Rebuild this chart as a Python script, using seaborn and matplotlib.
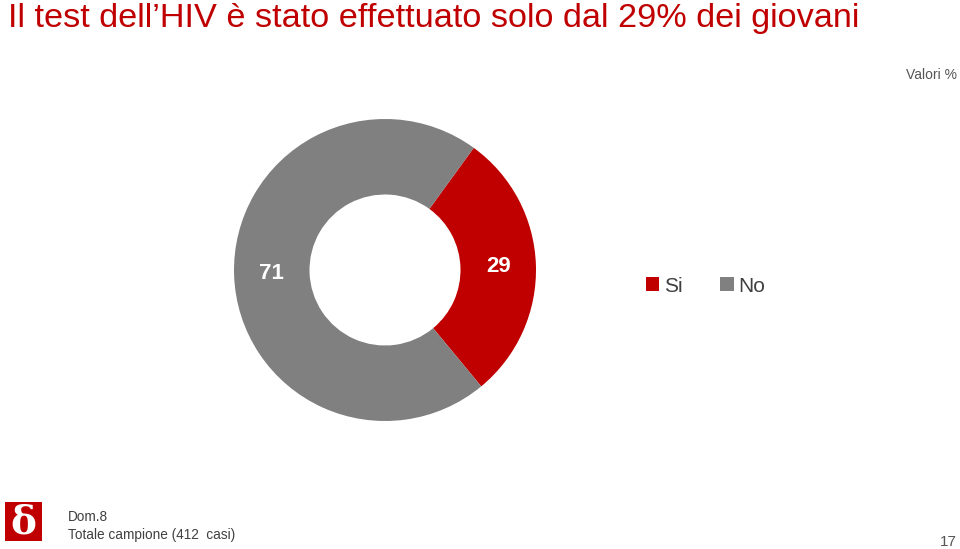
import matplotlib
matplotlib.use("Agg")
import matplotlib.pyplot as plt
import seaborn as sns
from matplotlib.patches import Patch, Rectangle

sns.set_theme(style="white")
plt.rcParams['font.family'] = ['Liberation Sans', 'DejaVu Sans']

categories = ["Si", "No"]
values = [29, 71]
colors = ["#C00000", "#808080"]
title = "Il test dell\u2019HIV è stato effettuato solo dal 29% dei giovani"

fig = plt.figure(figsize=(9.6, 5.49), dpi=100)
fig.patch.set_facecolor("white")

W, H = 960, 549
cx, cy, r = 385, 270, 151
ax = fig.add_axes([(cx - r) / W, (H - cy - r) / H, 2 * r / W, 2 * r / H])
wedges, texts, autotexts = ax.pie(
    values, colors=colors, startangle=54, counterclock=False, radius=1.0,
    wedgeprops=dict(width=0.5, edgecolor="none"),
    autopct=lambda p: f"{round(p):d}", pctdistance=0.75,
    textprops=dict(color="white", fontsize=16, fontweight="bold"))
ax.set_xlim(-1, 1)
ax.set_ylim(-1, 1)
ax.set_aspect("equal")
ax.axis("off")

fig.text(8 / W, 1 - 19 / H, title, color="#C00000", fontsize=24.7, va="center", ha="left")
fig.text(957 / W, 1 - 75 / H, "Valori %", color="#555555", fontsize=10, va="center", ha="right")

handles = [Patch(facecolor=c, edgecolor="none", label=l) for c, l in zip(colors, categories)]
fig.legend(handles=handles, loc="center left", bbox_to_anchor=(627 / W, 1 - 286 / H),
           ncol=2, frameon=False, fontsize=15, handlelength=0.65, handleheight=0.65,
           handletextpad=0.25, columnspacing=1.77, labelcolor="#404040")

# logo
fig.patches.append(Rectangle((5 / W, 1 - 541 / H), 37 / W, 39 / H, transform=fig.transFigure,
                             facecolor="#C00000", edgecolor="none"))
fig.text(23.5 / W, 1 - 523 / H, "\u03b4", color="white", fontsize=28, fontweight="bold",
         ha="center", va="center", family=["DejaVu Serif"])

fig.text(68 / W, 1 - 517 / H, "Dom.8", color="#404040", fontsize=9.8, va="center", ha="left")
fig.text(68 / W, 1 - 535 / H, "Totale campione (412  casi)", color="#404040", fontsize=9.8,
         va="center", ha="left")
fig.text(957 / W, 1 - 542 / H, "17", color="#555555", fontsize=11, va="center", ha="right")

fig.savefig("out.png", dpi=100)
